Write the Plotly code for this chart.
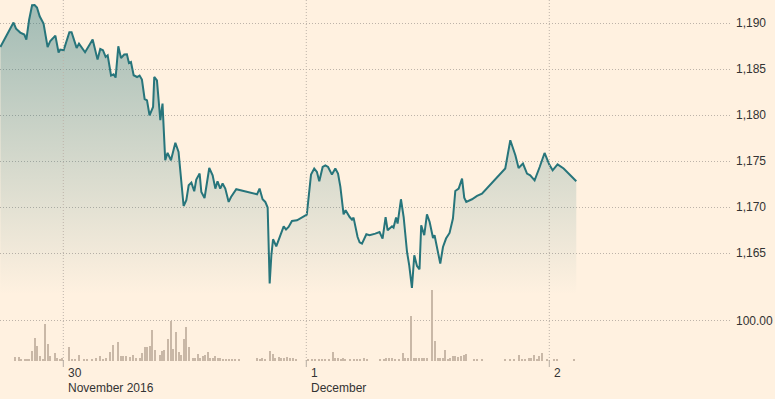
import pandas as pd
import plotly.graph_objects as go

BASE = pd.Timestamp("2016-11-30 00:00")

# price series: minutes from 30 Nov 00:00, price
price_min = [-373,-295,-280,-255,-231,-219,-203,-185,-170,-156,
             -140,-117,-93,-77,-47,-28,-18,2,36,49,
             79,93,129,174,203,219,235,251,263,283,
             298,310,326,342,361,377,389,401,417,437,
             452,466,482,496,511,532,539,555,575,588,
             604,618,638,664,683,713,729,743,759,776,
             788,808,818,837,865,885,901,914,930,944,
             960,980,994,1025,1148,1163,1181,1197,1211,1223,
             1233,1243,1262,1282,1306,1320,1335,1355,1385,1443,
             1468,1487,1503,1517,1537,1553,1569,1592,1612,1628,
             1642,1661,1673,1697,1711,1720,1744,1756,1770,1796,
             1815,1849,1874,1892,1910,1922,1948,1957,1972,1981,
             2001,2017,2037,2050,2066,2080,2096,2111,2121,2139,
             2155,2171,2191,2200,2218,2234,2250,2268,2289,2309,
             2323,2343,2363,2376,2388,2422,2452,2481,2619,2649,
             2679,2698,2724,2748,2767,2793,2823,2852,2880,2900,
             2929,2965,3040]
price_val = [1187.42,1190.08,1189.42,1188.99,1188.77,1188.23,1190.33,1191.96,1191.99,1191.71,
             1190.76,1189.97,1187.42,1188.08,1188.66,1186.82,1187.14,1187.07,1189.02,1189.02,
             1187.32,1187.79,1186.85,1188.23,1186.05,1187.21,1187.07,1186.34,1186.52,1184.32,
             1184.46,1184.10,1187.50,1186.23,1186.60,1186.63,1185.68,1185.79,1184.35,1184.16,
             1184.32,1183.88,1181.77,1181.63,1180.00,1180.90,1184.16,1183.80,1179.46,1181.27,
             1175.11,1175.92,1175.11,1177.01,1176.01,1170.14,1170.76,1172.39,1172.68,1171.74,
             1173.01,1173.66,1171.66,1171.01,1174.27,1173.48,1172.03,1172.83,1172.03,1172.58,
             1172.03,1170.58,1171.12,1171.96,1171.41,1172.03,1170.87,1170.58,1169.97,1161.71,
             1164.78,1166.52,1165.76,1166.77,1167.93,1167.58,1167.86,1168.51,1168.59,1169.21,
             1173.55,1174.21,1173.84,1172.83,1174.38,1174.56,1174.38,1173.55,1174.21,1173.66,
             1172.21,1169.24,1169.67,1168.94,1168.66,1168.88,1166.77,1166.19,1166.05,1167.06,
             1166.96,1167.14,1167.31,1166.60,1168.94,1167.50,1167.93,1167.79,1168.88,1168.23,
             1170.87,1168.94,1165.14,1163.69,1161.23,1164.78,1163.62,1163.26,1168.04,1166.96,
             1169.24,1168.40,1166.66,1166.96,1165.14,1163.88,1165.68,1166.60,1167.21,1168.77,
             1171.77,1172.03,1173.12,1171.05,1170.58,1170.87,1171.23,1171.49,1174.21,1177.28,
             1175.65,1174.27,1174.75,1173.66,1173.48,1172.93,1174.38,1175.90,1174.64,1174.02,
             1174.67,1174.21,1172.83]

# volume series
vol_min = [-286,-265,-249,-229,-215,-203,-185,-168,-156,-138,
           -120,-107,-91,-79,-49,-36,-22,-10,34,52,
           67,93,123,142,172,191,217,235,255,274,
           295,324,342,356,373,393,415,433,452,468,
           482,496,511,527,545,571,585,599,618,638,
           650,670,683,697,713,727,745,766,782,796,
           812,828,841,855,871,885,901,914,930,946,
           966,980,1000,1019,1039,1148,1163,1177,1197,1223,
           1240,1256,1276,1290,1305,1326,1345,1361,1381,1452,
           1474,1493,1513,1533,1553,1572,1598,1612,1628,1646,
           1658,1671,1701,1720,1740,1760,1780,1800,1879,1898,
           1914,1928,1948,1967,1987,2013,2027,2040,2060,2076,
           2092,2110,2126,2139,2155,2185,2200,2218,2234,2250,
           2264,2280,2293,2309,2323,2339,2357,2372,2388,2431,
           2452,2481,2619,2649,2668,2698,2718,2738,2757,2773,
           2787,2807,2817,2837,2866,2906,2926,3028]
vol_val = [8.4,10,4.2,2.5,2.5,2.5,25,57,38,13,
           4,93,42,13,18.5,6,4,8,35,2.5,
           4,14,2,2,2,7,13,4,7,21,
           40,46,13,13,11,10,14,6,8,19,
           35,35,38,78,28,14,25,28,55,99,
           30,72,23,14,55,86,34,8,8,17,
           6,11,14,23,8,8,11,6,6,4,
           2.5,4,2,2,2,6,4,6,4,25,
           17,8,10,6,6,10,8,7,4,3.4,
           4,3.4,3.4,4,3.4,5,21,6,8,5,
           8,2,3.4,2,2,3.4,8,2,2,4,
           8,8,6,3.4,4,18.5,6,8,113,8,
           8,8,8,6,6,179,50,6,8,8,
           27,3.4,8,12,12,10,12,14,17,2,
           2,2,2,3.4,3.4,14,4,4,6,6,
           14,4,12,18.5,2,3.4,3.4,2]

price_ticks = [1165, 1170, 1175, 1180, 1185, 1190]
vol_ticks = [100]
vol_ticktext = ["100.00"]
day_ticks = ["2016-11-30", "2016-12-01", "2016-12-02"]
day_labels = ["30", "1", "2"]
month_labels = ["November 2016", "December", ""]

price_t = [BASE + pd.Timedelta(minutes=m) for m in price_min]
vol_t = [BASE + pd.Timedelta(minutes=m) for m in vol_min]

BG = "#FFF1E0"
GRID = "#bdb3a9"
DOT = "1px,2px"
TEXT = "#333333"
FONT = "Liberation Sans, Arial, sans-serif"

fig = go.Figure()
fig.add_trace(go.Scatter(
    x=price_t, y=price_val, mode="lines",
    line=dict(color="#27757b", width=2),
    fill="tozeroy",
    fillgradient=dict(type="vertical", start=1160.5, stop=1192,
                      colorscale=[[0, "rgba(39,117,123,0)"], [1, "rgba(39,117,123,0.43)"]]),
    hoverinfo="skip", yaxis="y"))
fig.add_trace(go.Bar(
    x=vol_t, y=vol_val, marker=dict(color="rgb(201,184,167)", line=dict(width=0)),
    width=11.9 * 60 * 1000, hoverinfo="skip", yaxis="y2"))

x0 = BASE + pd.Timedelta(minutes=-375.1)
x1 = BASE + pd.Timedelta(minutes=3950.9)

shapes = []
annotations = []
for d, lab, mon in zip(day_ticks, day_labels, month_labels):
    shapes.append(dict(type="line", xref="x", yref="paper", x0=d, x1=d,
                       y0=1 - 361 / 399, y1=1, line=dict(color=GRID, width=1, dash=DOT), layer="above"))
    shapes.append(dict(type="line", xref="x", yref="paper", x0=d, x1=d,
                       y0=1 - 367 / 399, y1=1 - 360 / 399, line=dict(color="#b5aca3", width=1)))
    annotations.append(dict(x=d, xref="x", y=1 - 373 / 399, yref="paper", text=lab,
                            showarrow=False, xanchor="left", yanchor="middle", xshift=3,
                            font=dict(family=FONT, size=12, color=TEXT)))
    if mon:
        annotations.append(dict(x=d, xref="x", y=1 - 387.5 / 399, yref="paper", text=mon,
                                showarrow=False, xanchor="left", yanchor="middle", xshift=3,
                                font=dict(family=FONT, size=12, color=TEXT)))

fig.update_layout(
    width=775, height=399,
    margin=dict(l=0, r=45, t=0, b=0),
    paper_bgcolor=BG, plot_bgcolor=BG,
    showlegend=False, bargap=0,
    font=dict(family=FONT, size=12, color=TEXT),
    xaxis=dict(type="date", range=[x0, x1], showgrid=False, zeroline=False,
               showticklabels=False, ticks="", showline=False, fixedrange=True),
    yaxis=dict(range=[1149.16, 1192.53], side="right", tickvals=price_ticks,
               tickformat=",", showgrid=True, gridcolor=GRID, griddash=DOT, gridwidth=1,
               zeroline=False, ticks="", ticklabelstandoff=5, showline=False),
    yaxis2=dict(range=[-96.5, 908.6], overlaying="y", side="right", tickvals=vol_ticks,
                ticktext=vol_ticktext, showgrid=True, gridcolor=GRID, griddash=DOT,
                gridwidth=1, zeroline=False, ticks="", ticklabelstandoff=5, showline=False),
    shapes=shapes, annotations=annotations,
)
fig.write_html("out.html")
